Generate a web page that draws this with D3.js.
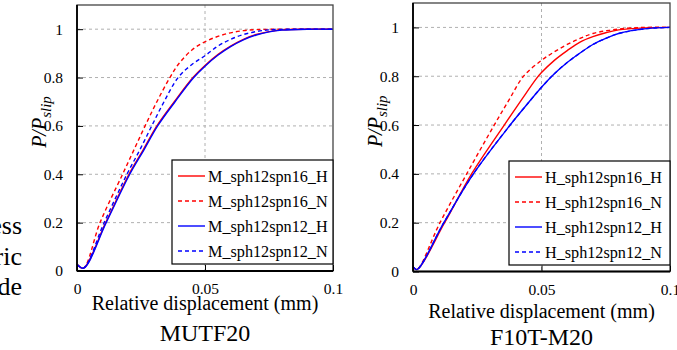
<!DOCTYPE html>
<html>
<head>
<meta charset="utf-8">
<script src="https://cdn.jsdelivr.net/npm/d3@7"></script>
<style>
  body { margin: 0; background: #fff; }
  svg { display: block; font-family: "Liberation Serif", "Times New Roman", serif; }
</style>
</head>
<body>
<svg id="chart" width="677" height="350"></svg>
<script>
// tick values / labels
const xTicks = [0, 0.05, 0.1];
const xTickLabels = ["0", "0.05", "0.1"];
const yTicks = [0, 0.2, 0.4, 0.6, 0.8, 1];
const yTickLabels = ["0", "0.2", "0.4", "0.6", "0.8", "1"];

// MUTF20 panel: [relative displacement (mm), P/Pslip]
const mutfNames = ["M_sph12spn16_H", "M_sph12spn16_N", "M_sph12spn12_H", "M_sph12spn12_N"];
const mutf16H = [[0,0.028],[0.0025,0.012],[0.0112,0.2],[0.0203,0.4],[0.0258,0.5],[0.0312,0.6],[0.038,0.7],[0.0453,0.8],[0.05,0.85],[0.055,0.895],[0.06,0.93],[0.065,0.958],[0.07,0.978],[0.075,0.99],[0.08,0.997],[0.09,1],[0.1,1]];
const mutf16N = [[0,0.028],[0.0025,0.012],[0.009,0.2],[0.0178,0.4],[0.0222,0.5],[0.0266,0.6],[0.0312,0.7],[0.0363,0.8],[0.04,0.86],[0.045,0.915],[0.05,0.948],[0.055,0.97],[0.06,0.985],[0.065,0.994],[0.07,0.998],[0.08,1],[0.1,1]];
const mutf12H = [[0,0.028],[0.0026,0.012],[0.0114,0.2],[0.0206,0.4],[0.0261,0.5],[0.0315,0.6],[0.0383,0.7],[0.0456,0.8],[0.05,0.847],[0.055,0.892],[0.06,0.928],[0.065,0.956],[0.07,0.976],[0.075,0.989],[0.08,0.996],[0.09,1],[0.1,1]];
const mutf12N = [[0,0.028],[0.0025,0.012],[0.0106,0.2],[0.0195,0.4],[0.0245,0.5],[0.0292,0.6],[0.034,0.7],[0.0395,0.8],[0.045,0.855],[0.05,0.89],[0.055,0.93],[0.06,0.958],[0.065,0.978],[0.07,0.99],[0.075,0.997],[0.085,1],[0.1,1]];

// F10T-M20 panel
const f10tNames = ["H_sph12spn16_H", "H_sph12spn16_N", "H_sph12spn12_H", "H_sph12spn12_N"];
const f10t16H = [[0,0.02],[0.0015,0.008],[0.0123,0.2],[0.0228,0.4],[0.0355,0.6],[0.042,0.7],[0.048,0.79],[0.05,0.815],[0.055,0.865],[0.06,0.905],[0.065,0.94],[0.07,0.962],[0.075,0.978],[0.08,0.99],[0.09,0.998],[0.1,1]];
const f10t16N = [[0,0.02],[0.0015,0.008],[0.0105,0.2],[0.0209,0.4],[0.0316,0.6],[0.0372,0.7],[0.043,0.8],[0.05,0.865],[0.055,0.9],[0.06,0.93],[0.065,0.955],[0.07,0.975],[0.08,0.993],[0.09,1],[0.1,1]];
const f10t12H = [[0,0.02],[0.0015,0.008],[0.012,0.2],[0.0235,0.4],[0.0378,0.6],[0.044,0.68],[0.05,0.755],[0.055,0.81],[0.06,0.856],[0.065,0.895],[0.07,0.93],[0.075,0.955],[0.08,0.975],[0.09,0.994],[0.1,1]];
const f10t12N = [[0,0.02],[0.0015,0.008],[0.012,0.2],[0.0235,0.4],[0.0378,0.6],[0.044,0.68],[0.05,0.755],[0.055,0.81],[0.06,0.856],[0.065,0.895],[0.07,0.93],[0.075,0.955],[0.08,0.975],[0.09,0.994],[0.1,1]];

const colors = ["#ff0000", "#ff0000", "#0000ff", "#0000ff"];
const dashes = [null, "4,3", null, "4,3"];

const svg = d3.select("#chart");

// cut-off body text at the left edge
const sideText = ["ess", "ric", "de"];
svg.selectAll("text.side").data(sideText).enter().append("text")
  .attr("class", "side")
  .attr("x", 22).attr("y", (d, i) => [234, 265, 295][i])
  .attr("text-anchor", "end")
  .style("font-size", "26px")
  .text(d => d);

function drawPanel(p) {
  const x = d3.scaleLinear().domain([0, 0.1]).range([p.left, p.right]);
  const y = d3.scaleLinear().domain([0, 1.1]).range([p.bottom, p.top]);
  const g = svg.append("g");

  // grid
  g.selectAll("line.gy").data(yTicks.filter(v => v > 0)).enter().append("line")
    .attr("x1", p.left).attr("x2", p.right)
    .attr("y1", d => y(d)).attr("y2", d => y(d))
    .attr("stroke", "#b0b0b0").attr("stroke-width", 1).attr("stroke-dasharray", "3,3");
  g.selectAll("line.gx").data([0.05]).enter().append("line")
    .attr("x1", d => x(d)).attr("x2", d => x(d))
    .attr("y1", p.top).attr("y2", p.bottom)
    .attr("stroke", "#b0b0b0").attr("stroke-width", 1).attr("stroke-dasharray", "3,3");

  // curves
  const line = d3.line().x(d => x(d[0])).y(d => y(d[1])).curve(d3.curveCatmullRom.alpha(0.5));
  p.series.forEach((s, i) => {
    g.append("path").datum(s)
      .attr("d", line)
      .attr("fill", "none")
      .attr("stroke", colors[i])
      .attr("stroke-width", 1.4)
      .attr("stroke-dasharray", dashes[i]);
  });

  // frame
  g.append("rect")
    .attr("x", p.left).attr("y", p.top)
    .attr("width", p.right - p.left).attr("height", p.bottom - p.top)
    .attr("fill", "none").attr("stroke", "#444").attr("stroke-width", 1.3);

  // axes
  const xAxis = d3.axisBottom(x).tickValues(xTicks)
    .tickFormat((d, i) => xTickLabels[i])
    .tickSizeInner(-6).tickSizeOuter(0).tickPadding(12);
  const gx = g.append("g").attr("transform", `translate(0,${p.bottom})`).call(xAxis);
  const yAxis = d3.axisLeft(y).tickValues(yTicks)
    .tickFormat((d, i) => yTickLabels[i])
    .tickSizeInner(-6).tickSizeOuter(0).tickPadding(14);
  const gy = g.append("g").attr("transform", `translate(${p.left},0)`).call(yAxis);
  [gx, gy].forEach(a => {
    a.attr("font-family", null);
    a.select(".domain").attr("stroke", "#000").attr("stroke-width", 1.8);
    a.selectAll(".tick line").attr("stroke", "#000").attr("stroke-width", 1);
    a.selectAll(".tick text").attr("fill", "#000")
      .style("font-size", "15.5px");
  });
  gy.select(".domain").attr("d", `M0,${p.bottom}V${p.top}`);
  gx.select(".domain").attr("d", `M${p.left},0H${p.right}`);

  // y label
  const yl = g.append("text")
    .attr("transform", `translate(${p.left - 31},${(p.top + p.bottom) / 2 - 16}) rotate(-90)`)
    .attr("text-anchor", "middle")
    .style("font-size", "20px").style("font-style", "italic");
  yl.append("tspan").text("P/P");
  yl.append("tspan").attr("dy", 5).style("font-size", "15px").text("slip");

  // x label and title
  g.append("text").attr("x", (p.left + p.right) / 2).attr("y", p.xlabelY)
    .attr("text-anchor", "middle").style("font-size", "20px")
    .text("Relative displacement (mm)");
  g.append("text").attr("x", (p.left + p.right) / 2).attr("y", p.titleY)
    .attr("text-anchor", "middle").style("font-size", "24px")
    .text(p.title);

  // legend
  const lg = g.append("g");
  lg.append("rect")
    .attr("x", p.legX).attr("y", p.legY)
    .attr("width", p.right - p.legX).attr("height", 104)
    .attr("fill", "#fff").attr("stroke", "#000").attr("stroke-width", 1.2);
  const rows = lg.selectAll("g.row").data(p.names).enter().append("g")
    .attr("transform", (d, i) => `translate(${p.legX},${p.legY + 16 + i * 25})`);
  rows.append("line")
    .attr("x1", 6).attr("x2", 33).attr("y1", 0).attr("y2", 0)
    .attr("stroke", (d, i) => colors[i]).attr("stroke-width", 1.4)
    .attr("stroke-dasharray", (d, i) => dashes[i]);
  rows.append("text")
    .attr("x", 36).attr("y", 5.5)
    .style("font-size", "16.2px")
    .text(d => d);
}

drawPanel({
  left: 77, right: 333, top: 5, bottom: 271,
  series: [mutf16H, mutf16N, mutf12H, mutf12N],
  names: mutfNames, title: "MUTF20",
  xlabelY: 310, titleY: 341, legX: 172, legY: 160
});
drawPanel({
  left: 413, right: 670, top: 3, bottom: 271.5,
  series: [f10t16H, f10t16N, f10t12N, f10t12H],
  names: f10tNames, title: "F10T-M20",
  xlabelY: 318, titleY: 345, legX: 509, legY: 161
});
</script>
</body>
</html>
